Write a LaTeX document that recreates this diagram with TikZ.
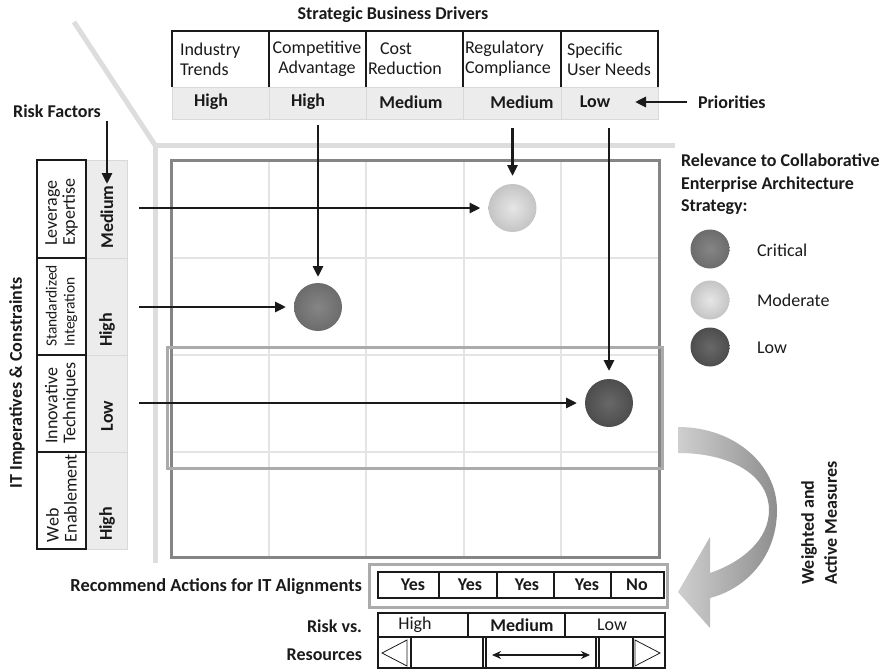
\documentclass[tikz,border=0pt]{standalone}
\usepackage{fontspec}
\setmainfont{Carlito}
\usetikzlibrary{arrows.meta}
\definecolor{rowgray}{HTML}{ECECEC}
\definecolor{rowbd}{HTML}{D9D9D9}
\definecolor{framecol}{HTML}{DDDDDD}
\definecolor{gridbd}{HTML}{858585}
\definecolor{gridin}{HTML}{E4E4E4}
\definecolor{hlcol}{HTML}{ABABAB}
\definecolor{ink}{HTML}{1A1A1A}
\definecolor{critin}{HTML}{858585}
\definecolor{critout}{HTML}{6C6C6C}
\definecolor{modin}{HTML}{E6E6E6}
\definecolor{modout}{HTML}{C4C4C4}
\definecolor{lowin}{HTML}{686868}
\definecolor{lowout}{HTML}{4D4D4D}
\definecolor{arrl}{HTML}{CFCFCF}
\definecolor{arrr}{HTML}{8E8E8E}
\begin{document}
\begin{tikzpicture}[x=1pt,y=-1pt,
  every node/.style={inner sep=0pt, outer sep=0pt, text=ink, font=\fontsize{18}{20}\selectfont},
  bt/.style={font=\bfseries\fontsize{18}{20}\selectfont},
  arr/.style={draw=ink, line width=2.7pt, -{Triangle[length=11pt,width=10pt]}},
  frameln/.style={draw=framecol, line width=5pt},
  blk/.style={draw=ink, line width=1.3pt},
  lgt/.style={draw=rowbd, line width=1pt},
  dotcrit/.style={circle, minimum size=48pt, shading=radial, inner color=critin, outer color=critout},
  dotmod/.style={circle, minimum size=48pt, shading=radial, inner color=modin, outer color=modout},
  dotlow/.style={circle, minimum size=48pt, shading=radial, inner color=lowin, outer color=lowout}
]
\useasboundingbox (0,0) rectangle (892,672);

% light frame
\draw[frameln] (74,22) -- (155,145);
\draw[frameln] (675,145) -- (155,145) -- (155,563);

% title
\node[bt] (title) at (393,15) {Strategic Business Drivers};

% top table
\fill[rowgray] (172,87) rectangle (658,119);
\draw[lgt] (172,87) rectangle (658,119);
\foreach \x in {269,366,463,561} \draw[lgt] (\x,87) -- (\x,119);
\draw[blk] (172,87) -- (172,31) -- (658,31) -- (658,87);
\foreach \x in {269,366,463,561} \draw[blk] (\x,31) -- (\x,87);

\node[anchor=west, align=left] (d1) at (180,59) {Industry\\Trends};
\node[align=center] (d2) at (317,59) {Competitive\\Advantage};
\node[anchor=west, align=left] (d3) at (368,59) {\hspace*{12pt}Cost\\Reduction};
\node[anchor=west, align=left] (d4) at (465,59) {Regulatory\\Compliance};
\node[anchor=west, align=left] (d5) at (567,59) {Specific\\User Needs};

\node[bt] (p1) at (211,102) {High};
\node[bt] (p2) at (308,102) {High};
\node[bt] (p3) at (411,102) {Medium};
\node[bt] (p4) at (522,102) {Medium};
\node[bt] (p5) at (595,102) {Low};

\node[bt, anchor=west] (prio) at (698,102) {Priorities};
\coordinate (prtip) at (635,102);
\draw[arr, shorten <=11pt] (prio.west) -- (prtip);

% risk factors
\node[bt] (rf) at (57,111) {Risk Factors};
\coordinate (rfs) at (107,121);
\coordinate (rft) at (107,184);

% grid
\foreach \x in {269,366,464,561} \draw[gridin, line width=1.2pt] (\x,160) -- (\x,557);
\foreach \y in {258,355,452} \draw[gridin, line width=1.2pt] (171,\y) -- (659,\y);
\draw[gridbd, line width=3pt] (171,160) rectangle (659,557);
\draw[hlcol, line width=3pt] (167,347) rectangle (662,468);

% left table
\fill[rowgray] (86,160) rectangle (127,549);
\draw[lgt] (86,160) rectangle (127,549);
\foreach \y in {258,355,452} \draw[lgt] (86,\y) -- (127,\y);
\draw[blk] (37,160) rectangle (86,549);
\foreach \y in {258,355,452} \draw[blk] (37,\y) -- (86,\y);

\node[rotate=90, align=left, font=\fontsize{18}{18}\selectfont] (r1) at (61.5,212) {Leverage\\Expertise};
\node[rotate=90, align=left, font=\fontsize{15.5}{18}\selectfont] (r2) at (61.5,306) {Standardized\\Integration};
\node[rotate=90, align=left, font=\fontsize{18}{18}\selectfont] (r3) at (61.5,403) {Innovative\\Techniques};
\node[rotate=90, align=left, font=\fontsize{18}{18}\selectfont] (r4) at (61.5,498) {Web\\Enablement};

\node[bt, rotate=90] (v1) at (107,217) {Medium};
\node[bt, rotate=90] (v2) at (107,330) {High};
\node[bt, rotate=90] (v3) at (107,416) {Low};
\node[bt, rotate=90] (v4) at (107,524) {High};

\draw[arr] (rfs) -- (rft);

\node[bt, rotate=90] (itc) at (17,383) {IT Imperatives \& Constraints};

% circles
\node[dotmod] (cmod) at (512.5,208) {};
\node[dotcrit] (ccrit) at (318,307) {};
\node[dotlow] (clow) at (609,403) {};

\coordinate (h1) at (139,208);
\coordinate (h2) at (139,307);
\coordinate (h3) at (139,403);
\draw[arr, shorten >=8pt] (h1) -- (cmod.west);
\draw[arr, shorten >=8pt] (h2) -- (ccrit.west);
\draw[arr, shorten >=8pt] (h3) -- (clow.west);

\coordinate (t2) at (318,125);
\coordinate (t4) at (512.5,128);
\coordinate (t5) at (609,128);
\draw[arr, shorten >=6pt] (t2) -- (ccrit.north);
\draw[arr, shorten >=8pt] (t4) -- (cmod.north);
\draw[arr, shorten >=8pt] (t5) -- (clow.north);

% legend
\node[bt, anchor=north west, align=left, font=\bfseries\fontsize{18}{22.5}\selectfont] (legt) at (681,154) {Relevance to Collaborative\\Enterprise Architecture\\Strategy:};
\node[dotcrit, minimum size=39pt] (lc1) at (710,249) {};
\node[dotmod, minimum size=39pt] (lc2) at (710,300) {};
\node[dotlow, minimum size=39pt] (lc3) at (710,347) {};
\node[anchor=west] (ll1) at (757,250) {Critical};
\node[anchor=west] (ll2) at (757,300) {Moderate};
\node[anchor=west] (ll3) at (757,348) {Low};

% curved arrow
\shade[left color=arrl, right color=arrr] (678,427) .. controls (735,427) and (777,465) .. (777,510)
  .. controls (777,555) and (748,588) .. (710,598) -- (710,628) -- (678,592) -- (710,537) -- (710,573)
  .. controls (742,562) and (769,540) .. (769,510) .. controls (769,478) and (735,453) .. (678,453) -- cycle;

\node[bt, rotate=90, align=left, font=\bfseries\fontsize{18}{23}\selectfont] (wam) at (819,523) {Weighted and\\Active Measures};

% recommend actions
\node[bt, anchor=east, font=\bfseries\fontsize{18.4}{20}\selectfont] (rec) at (362,587) {Recommend Actions for IT Alignments};
\draw[hlcol, line width=3pt] (369,564) rectangle (667,607);
\draw[draw=ink, line width=2pt] (378,572) rectangle (664,598);
\foreach \x in {439,497,554,611} \draw[draw=ink, line width=1.6pt] (\x,572) -- (\x,598);
\node[bt] (y1) at (413,585) {Yes};
\node[bt] (y2) at (470,585) {Yes};
\node[bt] (y3) at (527,585) {Yes};
\node[bt] (y4) at (587,585) {Yes};
\node[bt] (y5) at (637,585) {No};

% risk vs resources
\node[bt, anchor=east] (rv) at (362,626) {Risk vs.};
\node[bt, anchor=east] (rs) at (362,655) {Resources};
\draw[draw=ink, line width=2pt] (378,613) rectangle (665,668);
\draw[draw=ink, line width=1.5pt] (378,637) -- (665,637);
\foreach \x in {468,565} \draw[draw=ink, line width=1.1pt] (\x,613) -- (\x,637);
\foreach \x in {411,483,486,596,599,633} \draw[draw=ink, line width=1.1pt] (\x,637) -- (\x,668);
\node (q1) at (415,625) {High};
\node[bt] (q2) at (522,625) {Medium};
\node (q3) at (612,625) {Low};
\draw[draw=ink, line width=0.8pt] (382,653) -- (407,640) -- (407,666) -- cycle;
\draw[draw=ink, line width=0.8pt] (660,653) -- (635,640) -- (635,666) -- cycle;
\coordinate (da) at (492,655);
\coordinate (db) at (590,655);
\draw[draw=ink, line width=2.2pt, {Stealth[length=9pt,width=8pt]}-{Stealth[length=9pt,width=8pt]}] (da) -- (db);
\end{tikzpicture}
\end{document}
